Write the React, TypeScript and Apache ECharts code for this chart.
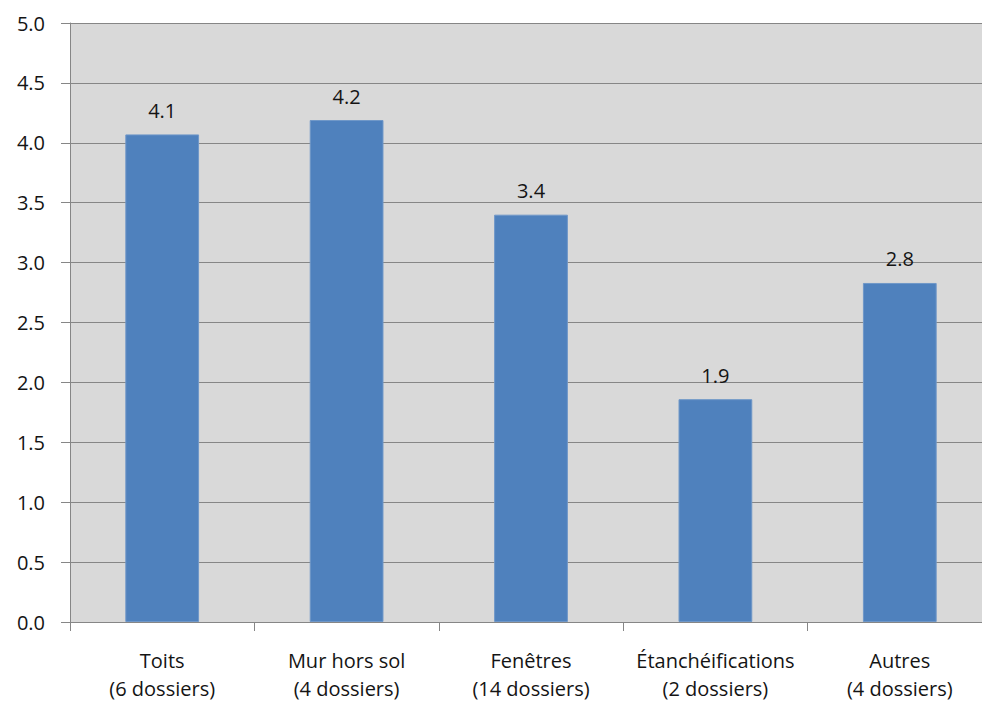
import React, { useEffect, useRef } from "react";
import * as echarts from "echarts";

const categories = [
  "Toits\n(6 dossiers)",
  "Mur hors sol\n(4 dossiers)",
  "Fenêtres\n(14 dossiers)",
  "Étanchéifications\n(2 dossiers)",
  "Autres\n(4 dossiers)",
];
const values = [4.07, 4.19, 3.4, 1.86, 2.83];
const yTicks = { min: 0, max: 5, interval: 0.5 };

const FONT = "'Open Sans', 'Noto Sans', sans-serif";

export default function App() {
  const ref = useRef<HTMLDivElement>(null);
  useEffect(() => {
    if (!ref.current) return;
    const chart = echarts.init(ref.current, undefined, { renderer: "svg" });
    chart.setOption({
      animation: false,
      backgroundColor: "#ffffff",
      grid: {
        left: 70,
        right: 0,
        top: 23,
        bottom: 77,
        show: true,
        backgroundColor: "#d9d9d9",
        borderWidth: 0,
      },
      xAxis: {
        type: "category",
        data: categories,
        boundaryGap: true,
        axisLine: { show: true, lineStyle: { color: "#868686", width: 1 } },
        axisTick: { show: true, length: 9, lineStyle: { color: "#868686" } },
        axisLabel: {
          color: "#141414",
          fontFamily: FONT,
          fontSize: 20,
          lineHeight: 28,
          margin: 24,
          interval: 0,
        },
        splitLine: { show: false },
      },
      yAxis: {
        type: "value",
        min: yTicks.min,
        max: yTicks.max,
        interval: yTicks.interval,
        axisLine: { show: true, lineStyle: { color: "#868686", width: 1 } },
        axisTick: { show: true, length: 9, lineStyle: { color: "#868686" } },
        axisLabel: {
          color: "#141414",
          fontFamily: FONT,
          fontSize: 20,
          margin: 25,
          formatter: (v: number) => v.toFixed(1),
        },
        splitLine: { show: true, lineStyle: { color: "#868686", width: 1 } },
      },
      series: [
        {
          type: "bar",
          data: values,
          barWidth: "40%",
          itemStyle: { color: "#4f81bd", borderColor: "#6f97c8", borderWidth: 1 },
          label: {
            show: true,
            position: "top",
            distance: 14,
            color: "#141414",
            fontFamily: FONT,
            fontSize: 20,
            formatter: (p: any) => Number(p.value).toFixed(1),
          },
        },
      ],
    });
    return () => chart.dispose();
  }, []);
  return (
    <div style={{ position: "absolute", left: 0, top: 0, width: 982, height: 702, overflow: "hidden" }}>
      <div ref={ref} style={{ width: 992, height: 702 }} />
    </div>
  );
}
